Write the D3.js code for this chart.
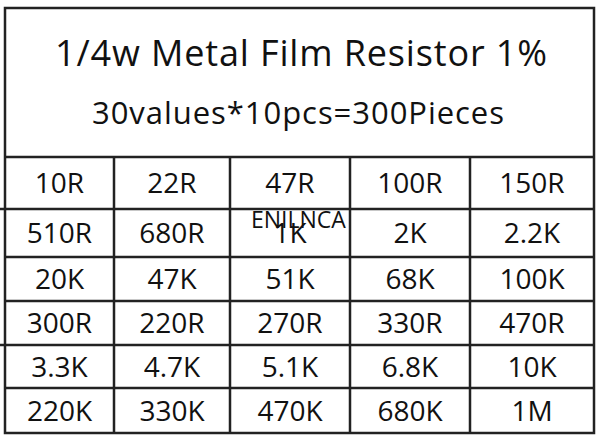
<!DOCTYPE html>
<html><head><meta charset="utf-8">
<script src="https://cdn.jsdelivr.net/npm/d3@7"></script>
<style>body{margin:0;background:#fff}</style>
</head><body><div id="chart"></div>
<script>
const title = "1/4w Metal Film Resistor 1%";
const subtitle = "30values*10pcs=300Pieces";
const rows = [
  ["10R", "22R", "47R", "100R", "150R"],
  ["510R", "680R", "1K", "2K", "2.2K"],
  ["20K", "47K", "51K", "68K", "100K"],
  ["300R", "220R", "270R", "330R", "470R"],
  ["3.3K", "4.7K", "5.1K", "6.8K", "10K"],
  ["220K", "330K", "470K", "680K", "1M"]
];
const colEdges = [5, 114, 230, 350, 470, 594];
const rowEdges = [157, 209, 257, 301, 345, 388, 433];

const svg = d3.select("#chart").append("svg").attr("width", 600).attr("height", 439);
const font = "'Open Sans', 'Noto Sans', sans-serif";
const stroke = "#222";

svg.append("rect").attr("x", 5).attr("y", 8).attr("width", 589).attr("height", 425)
  .attr("fill", "none").attr("stroke", stroke).attr("stroke-width", 2.5);

svg.append("text").attr("x", 301).attr("y", 66).attr("text-anchor", "middle")
  .attr("font-family", font).attr("font-size", 36).attr("textLength", 492)
  .attr("fill", "#111").text(title);
svg.append("text").attr("x", 298).attr("y", 124).attr("text-anchor", "middle")
  .attr("font-family", font).attr("font-size", 31).attr("textLength", 412)
  .attr("fill", "#111").text(subtitle);

// horizontal lines
svg.selectAll("line.h").data(rowEdges.slice(0, -1)).enter().append("line")
  .attr("x1", (d, i) => (i === 1 || i === 4) ? 0 : 5).attr("x2", 594)
  .attr("y1", d => d).attr("y2", d => d)
  .attr("stroke", stroke).attr("stroke-width", 2.5);
// vertical lines
svg.selectAll("line.v").data(colEdges.slice(1, -1)).enter().append("line")
  .attr("x1", d => d).attr("x2", d => d).attr("y1", 157).attr("y2", 433)
  .attr("stroke", stroke).attr("stroke-width", 2.5);

rows.forEach((r, ri) => {
  svg.selectAll(null).data(r).enter().append("text")
    .attr("x", (d, ci) => (colEdges[ci] + colEdges[ci + 1]) / 2)
    .attr("y", (rowEdges[ri] + rowEdges[ri + 1]) / 2 + 10)
    .attr("text-anchor", "middle").attr("font-family", font).attr("font-size", 28)
    .attr("fill", "#111").text(d => d);
});

svg.append("text").attr("x", 251).attr("y", 228).attr("font-family", font)
  .attr("font-size", 23).attr("fill", "#111").text("ENILNCA");
</script></body></html>
